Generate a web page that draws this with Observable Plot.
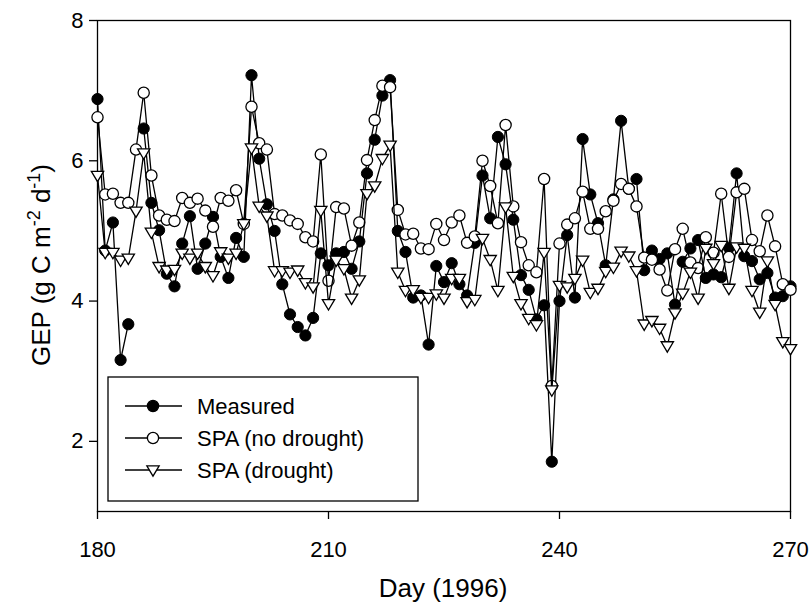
<!DOCTYPE html>
<html>
<head>
<meta charset="utf-8">
<script src="https://cdn.jsdelivr.net/npm/d3@7"></script>
<script src="https://cdn.jsdelivr.net/npm/@observablehq/plot@0.6"></script>
<style>
  html, body { margin: 0; padding: 0; background: #fff; }
  #chart { width: 811px; height: 603px; }
</style>
</head>
<body>
<div id="chart"></div>
<script>
const days = [180,181,182,183,184,185,186,187,188,189,190,191,192,193,194,195,196,197,198,199,
  200,201,202,203,204,205,206,207,208,209,210,211,212,213,214,215,216,217,218,219,
  220,221,222,223,224,225,226,227,228,229,230,231,232,233,234,235,236,237,238,239,
  240,241,242,243,244,245,246,247,248,249,250,251,252,253,254,255,256,257,258,259,
  260,261,262,263,264,265,266,267,268,269,270];

const measured = [6.88,4.72,5.12,3.16,3.67,null,6.46,5.40,5.01,4.39,4.21,4.82,5.21,4.46,4.82,5.20,4.63,4.33,4.90,4.63,
  7.22,6.03,5.38,5.00,4.24,3.81,3.63,3.51,3.76,4.68,4.51,4.68,4.70,4.46,4.85,5.82,6.30,6.93,7.15,5.00,
  4.70,4.05,4.08,3.38,4.50,4.27,4.54,4.24,4.08,4.83,5.79,5.18,6.34,5.95,5.16,4.37,4.16,3.74,3.94,1.71,
  4.00,4.94,4.05,6.31,5.52,5.11,4.51,5.45,6.57,5.60,5.74,4.44,4.72,4.60,4.68,3.95,4.56,4.75,4.87,4.33,
  4.38,4.34,4.76,5.82,4.64,4.57,4.31,4.40,4.05,4.07,4.21];

const spaNoDrought = [6.62,5.52,5.53,5.40,5.40,6.16,6.97,5.79,5.22,5.16,5.14,5.47,5.40,5.46,5.29,5.06,5.47,5.43,5.58,5.10,
  6.77,6.25,6.16,5.24,5.22,5.15,5.10,4.91,4.85,6.09,4.29,5.34,5.32,4.79,5.12,6.01,6.58,7.07,7.05,5.30,
  4.95,4.96,4.75,4.74,5.10,4.87,5.12,5.22,4.83,4.92,6.00,5.64,5.11,6.51,5.35,4.84,4.51,4.41,5.74,2.79,
  4.82,5.09,5.18,5.56,5.03,5.03,5.28,5.43,5.67,5.60,5.35,4.62,4.59,4.45,4.15,4.74,5.03,4.55,4.47,4.91,
  4.69,5.53,4.63,5.55,5.60,4.87,4.71,5.22,4.78,4.24,4.16];

const spaDrought = [5.79,4.69,4.69,4.58,4.61,5.28,6.11,4.98,4.49,4.44,4.45,4.68,4.61,4.68,4.49,4.36,4.70,4.61,4.68,5.10,
  6.18,5.35,5.21,4.43,4.43,4.41,4.44,4.26,4.20,5.29,3.96,4.58,4.46,4.04,4.30,5.53,5.64,6.03,6.22,4.41,
  4.15,4.16,4.05,4.05,4.10,4.04,4.32,4.32,3.99,4.02,4.89,4.59,4.15,5.34,4.35,3.96,3.75,3.66,4.69,2.73,
  4.22,4.20,4.32,4.58,4.12,4.18,4.42,4.48,4.71,4.64,4.43,3.67,3.72,3.61,3.36,3.83,4.11,4.41,4.04,4.75,
  4.53,4.79,4.18,4.77,4.75,4.15,3.84,4.57,3.95,3.42,3.32];

const xTicks = [180, 210, 240, 270];
const yTicks = [2, 4, 6, 8];
const seriesNames = ["Measured", "SPA (no drought)", "SPA (drought)"];

const rows = days.map((d, i) => ({day: d, measured: measured[i], noDrought: spaNoDrought[i], drought: spaDrought[i]}));

const triDown = {
  draw(context, size) {
    const s = Math.sqrt(size / Math.PI);
    context.moveTo(-1.1 * s, -0.75 * s);
    context.lineTo(1.1 * s, -0.75 * s);
    context.lineTo(0, 1.1 * s);
    context.closePath();
  }
};

const FONT = "'Liberation Sans', Arial, Helvetica, sans-serif";
const R = 5.6;
const SW = 1.3;
const TICKFONT = 22;
const LABELFONT = 26;

const chart = Plot.plot({
  width: 811,
  height: 603,
  marginLeft: 97,
  marginRight: 21,
  marginTop: 20,
  marginBottom: 92,
  style: {fontFamily: FONT, fontSize: "22px", color: "black", background: "white", overflow: "visible"},
  x: {domain: [180, 270], label: null},
  y: {domain: [1, 8], label: null},
  marks: [
    Plot.frame({stroke: "black", strokeWidth: SW}),
    Plot.axisX({ticks: xTicks, tickSize: 8, tickPadding: 22, tickFormat: d => String(d), fontSize: TICKFONT, strokeWidth: SW, label: null}),
    Plot.axisY({ticks: yTicks, tickSize: 8, tickPadding: 6, tickFormat: d => String(d), fontSize: TICKFONT, strokeWidth: SW, label: null}),
    Plot.line(rows, {x: "day", y: "measured", stroke: "black", strokeWidth: SW}),
    Plot.dot(rows, {x: "day", y: "measured", r: R, fill: "black", stroke: "black", strokeWidth: 1}),
    Plot.line(rows, {x: "day", y: "noDrought", stroke: "black", strokeWidth: SW}),
    Plot.dot(rows, {x: "day", y: "noDrought", r: R, fill: "white", stroke: "black", strokeWidth: SW}),
    Plot.line(rows, {x: "day", y: "drought", stroke: "black", strokeWidth: SW}),
    Plot.dot(rows, {x: "day", y: "drought", r: R, symbol: triDown, fill: "white", stroke: "black", strokeWidth: SW})
  ]
});

document.getElementById("chart").appendChild(chart);

const svg = d3.select(chart);

// Axis titles
svg.append("text")
  .attr("x", 443).attr("y", 597)
  .attr("text-anchor", "middle")
  .attr("font-family", FONT).attr("font-size", LABELFONT).attr("fill", "black")
  .text("Day (1996)");

const yl = svg.append("text")
  .attr("transform", "translate(50,265) rotate(-90)")
  .attr("text-anchor", "middle")
  .attr("font-family", FONT).attr("font-size", LABELFONT).attr("fill", "black");
yl.append("tspan").text("GEP (g C m");
yl.append("tspan").attr("dy", -10).attr("font-size", 18).text("-2");
yl.append("tspan").attr("dy", 10).text(" d");
yl.append("tspan").attr("dy", -10).attr("font-size", 18).text("-1");
yl.append("tspan").attr("dy", 10).text(")");

// Legend
const lg = svg.append("g");
lg.append("rect").attr("x", 108).attr("y", 377).attr("width", 310).attr("height", 124)
  .attr("fill", "white").attr("stroke", "black").attr("stroke-width", SW);
const rowY = [406, 438, 470];
const sym = [d3.symbolCircle, d3.symbolCircle, triDown];
const fills = ["black", "white", "white"];
seriesNames.forEach((name, i) => {
  const y = rowY[i];
  lg.append("line").attr("x1", 125).attr("x2", 182).attr("y1", y).attr("y2", y)
    .attr("stroke", "black").attr("stroke-width", SW);
  lg.append("path").attr("d", d3.symbol(sym[i], R * R * Math.PI)())
    .attr("transform", `translate(153,${y})`)
    .attr("fill", fills[i]).attr("stroke", "black").attr("stroke-width", SW);
  lg.append("text").attr("x", 197).attr("y", y).attr("dy", "0.36em")
    .attr("text-anchor", "start")
    .attr("font-family", FONT).attr("font-size", TICKFONT).attr("fill", "black")
    .text(name);
});
</script>
</body>
</html>
